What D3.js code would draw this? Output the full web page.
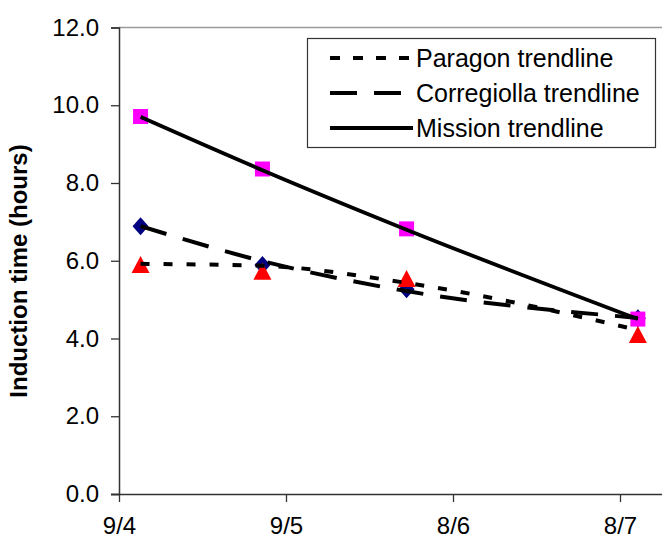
<!DOCTYPE html>
<html>
<head>
<meta charset="utf-8">
<script src="https://cdn.jsdelivr.net/npm/d3@7"></script>
<style>
  html, body { margin: 0; padding: 0; background: #fff; }
  svg { display: block; }
  text { font-family: "Liberation Sans", Arial, sans-serif; fill: #000; }
</style>
</head>
<body>
<svg id="chart" width="662" height="540"></svg>
<script>
// ---- data ----
const xTickLabels = ["9/4", "9/5", "8/6", "8/7"];
const yTicks = [0, 2, 4, 6, 8, 10, 12];
const xPositions = [0.129, 0.859, 1.722, 3.107];

const missionValues = [9.71, 8.36, 6.82, 4.50];
const corregiollaValues = [6.89, 5.89, 5.27, 4.52];
const paragonValues = [5.89, 5.72, 5.53, 4.09];

const missionTrend = [9.70, 8.33, 6.80, 4.50];
const corregiollaTrend = [6.89, 5.99, 5.22, 4.53];
const paragonTrend = [5.92, 5.87, 5.43, 4.22];

const legendLabels = ["Paragon trendline", "Corregiolla trendline", "Mission trendline"];

// ---- chart ----
const svg = d3.select("#chart");
const x = d3.scaleLinear().domain([0, 3.25]).range([119, 661.75]);
const y = d3.scaleLinear().domain([0, 12]).range([494, 27.5]);

// top border of plot area
svg.append("line")
  .attr("x1", x(0)).attr("x2", 662)
  .attr("y1", y(12)).attr("y2", y(12))
  .attr("stroke", "#9a9a9a").attr("stroke-width", 1.5);

// y axis
const yAxis = d3.axisLeft(y).tickValues(yTicks).tickSize(8).tickPadding(12)
  .tickFormat(d3.format(".1f"));
const gy = svg.append("g").attr("transform", `translate(${x(0)},0)`).call(yAxis);
gy.select(".domain").attr("stroke", "#333").attr("stroke-width", 1.5);
gy.selectAll(".tick line").attr("stroke", "#333").attr("stroke-width", 1.3);
gy.selectAll(".tick text")
  .style("font-family", "'Liberation Sans', Arial, sans-serif")
  .style("font-size", "24px").attr("fill", "#000");

// x axis
const xAxis = d3.axisBottom(x).tickValues([0, 1, 2, 3]).tickSize(8).tickPadding(15)
  .tickFormat((d, i) => xTickLabels[i]);
const gx = svg.append("g").attr("transform", `translate(0,${y(0)})`).call(xAxis);
gx.select(".domain").attr("stroke", "#333").attr("stroke-width", 1.5)
  .attr("d", `M${x(0) - 8},0.5H662`);
gx.selectAll(".tick line").attr("stroke", "#333").attr("stroke-width", 1.3);
gx.selectAll(".tick text")
  .style("font-family", "'Liberation Sans', Arial, sans-serif")
  .style("font-size", "24px").attr("fill", "#000");

// y title
svg.append("text")
  .attr("transform", "translate(27,271) rotate(-90)")
  .attr("text-anchor", "middle")
  .style("font-size", "24px").style("font-weight", "bold")
  .text("Induction time (hours)");

// marker shapes
const diamondPath = (cx, cy) => `M${cx},${cy - 9}L${cx + 8},${cy}L${cx},${cy + 9}L${cx - 8},${cy}Z`;
const squarePath = (cx, cy) => `M${cx - 7.5},${cy - 7.5}h15v15h-15Z`;
const trianglePath = (cx, cy) => `M${cx},${cy - 9}L${cx + 9},${cy + 8}L${cx - 9},${cy + 8}Z`;

const pts = vals => vals.map((v, i) => ({ x: xPositions[i], v }));

svg.append("g").selectAll("path").data(pts(corregiollaValues)).join("path")
  .attr("d", d => diamondPath(x(d.x), y(d.v))).attr("fill", "#000080");
svg.append("g").selectAll("path").data(pts(missionValues)).join("path")
  .attr("d", d => squarePath(x(d.x), y(d.v))).attr("fill", "#FF00FF");
svg.append("g").selectAll("path").data(pts(paragonValues)).join("path")
  .attr("d", d => trianglePath(x(d.x), y(d.v))).attr("fill", "#FF0000");

// trendlines
const line = d3.line().x(d => x(d.x)).y(d => y(d.v)).curve(d3.curveMonotoneX);
svg.append("path").datum(pts(paragonTrend)).attr("d", line)
  .attr("fill", "none").attr("stroke", "#000").attr("stroke-width", 4)
  .attr("stroke-dasharray", "9,14");
svg.append("path").datum(pts(corregiollaTrend)).attr("d", line)
  .attr("fill", "none").attr("stroke", "#000").attr("stroke-width", 4)
  .attr("stroke-dasharray", "27,17");
svg.append("path").datum(pts(missionTrend)).attr("d", line)
  .attr("fill", "none").attr("stroke", "#000").attr("stroke-width", 3.8);

// legend
const lg = svg.append("g");
lg.append("rect").attr("x", 307.5).attr("y", 38.5).attr("width", 348).attr("height", 109)
  .attr("fill", "#fff").attr("stroke", "#333").attr("stroke-width", 1.2);
const dashes = ["10,13", "27,17", null];
const widths = [4, 4, 3.8];
legendLabels.forEach((lab, i) => {
  const cy = 58 + i * 35;
  const l = lg.append("line").attr("x1", 330).attr("x2", 413)
    .attr("y1", cy).attr("y2", cy)
    .attr("stroke", "#000").attr("stroke-width", widths[i]);
  if (dashes[i]) l.attr("stroke-dasharray", dashes[i]);
  lg.append("text").attr("x", 416).attr("y", cy + 8.5)
    .style("font-size", "25px").text(lab);
});
</script>
</body>
</html>
